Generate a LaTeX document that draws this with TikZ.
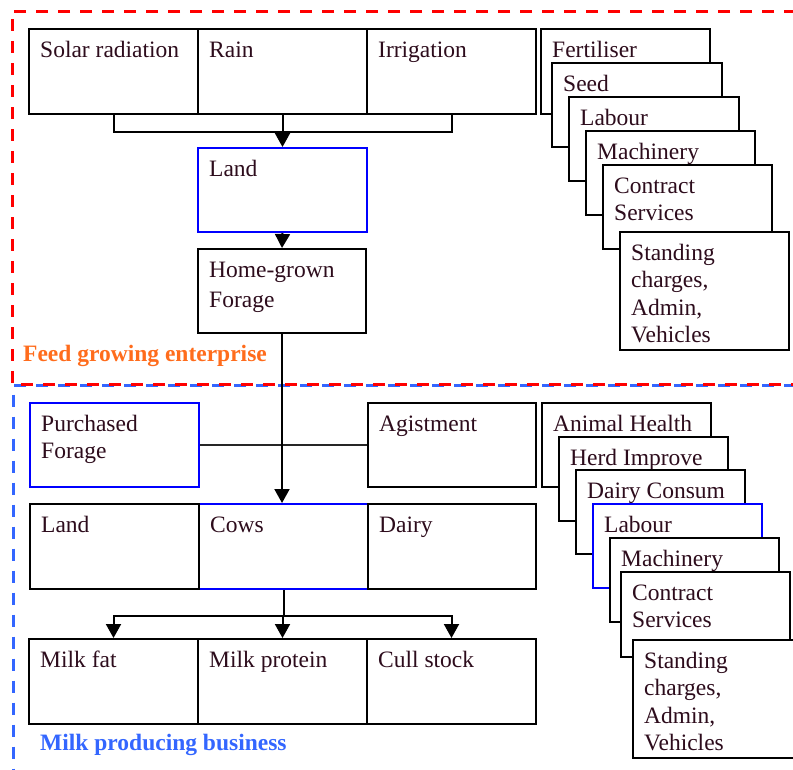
\documentclass[tikz,border=0pt]{standalone}
\usepackage{fontspec}
\setmainfont{Liberation Serif}
\usetikzlibrary{arrows.meta}

\definecolor{inktext}{RGB}{45,12,28}
\definecolor{feedorange}{RGB}{255,108,28}
\definecolor{milkblue}{RGB}{51,102,255}
\definecolor{regionred}{RGB}{255,0,0}
\definecolor{frameblue}{RGB}{0,0,255}

\tikzset{
  cellbox/.style={draw=black, line width=2pt, fill=white, rectangle, inner sep=0pt, anchor=north west},
  bluecell/.style={cellbox, draw=frameblue},
  celltext/.style={anchor=base west, inner sep=0pt, text=inktext, font=\fontsize{23.5}{27.5}\selectfont},
  flow/.style={line width=2pt, draw=black},
  flowarrow/.style={flow, -{Triangle[width=15pt,length=14pt]}},
  link/.style={line width=1.3pt, draw=black!85},
  feedzone/.style={draw=regionred, line width=3pt, dash pattern=on 12pt off 10pt},
  milkzone/.style={draw=milkblue, line width=3pt, dash pattern=on 12pt off 10pt},
  zonetitle/.style={anchor=base west, inner sep=0pt, font=\fontsize{23.5}{27.5}\selectfont\bfseries},
}

% #1 style, #2 name, #3 x, #4 y (top left), #5 width, #6 height, #7 text
\newcommand\cellnode[7]{%
  \node[#1, minimum width=#5pt, minimum height=#6pt] (#2) at (#3,#4) {};
  \node[celltext] at ([xshift=12pt,yshift=-29pt]#2.north west) {#7};}
\newcommand\lines[1]{\begin{tabular}[t]{@{}l@{}}#1\end{tabular}}

\begin{document}
\begin{tikzpicture}[x=1pt,y=-1pt]
\useasboundingbox (0,0) rectangle (793,769);
\clip (0,0) rectangle (793,769);

% enterprise regions
\draw[milkzone] (796,385.5) -- (13,385.5) -- (13,772);
\draw[feedzone] (796,11) -- (12,11) -- (12,384) -- (796,384);
\node[zonetitle, text=feedorange] (feedtitle) at (23,361) {Feed growing enterprise};
\node[zonetitle, text=milkblue] (milktitle) at (40,750) {Milk producing business};

% feed growing: natural inputs
\cellnode{cellbox}{solar}{28}{28}{169}{85}{Solar radiation}
\cellnode{cellbox}{rain}{197}{28}{169}{85}{Rain}
\cellnode{cellbox}{irr}{366}{28}{169}{85}{Irrigation}
\cellnode{bluecell}{landA}{197}{147}{169}{84}{Land}
\cellnode{cellbox}{home}{197}{248}{168}{84}{\lines{Home-grown\\[2.5pt]Forage}}

% feed growing: costs
\cellnode{cellbox}{fert}{540}{28}{169}{85}{Fertiliser}
\cellnode{cellbox}{seed}{551}{62}{170}{84}{Seed}
\cellnode{cellbox}{labA}{568}{96}{170}{84}{Labour}
\cellnode{cellbox}{machA}{585}{130}{169}{84}{Machinery}
\cellnode{cellbox}{contrA}{602}{164}{169}{84}{\lines{Contract\\Services}}
\cellnode{cellbox}{standA}{619}{231}{169}{118}{\lines{Standing\\charges,\\Admin,\\Vehicles}}

% milk producing: feed sources
\cellnode{bluecell}{purch}{29}{402}{169}{84}{\lines{Purchased\\Forage}}
\cellnode{cellbox}{agist}{367}{402}{168}{84}{Agistment}

% milk producing: resources
\cellnode{bluecell}{cows}{198}{503}{169}{85}{Cows}
\cellnode{cellbox}{landB}{29}{503}{169}{85}{Land}
\cellnode{cellbox}{dairy}{367}{503}{168}{85}{Dairy}

% milk producing: outputs
\cellnode{cellbox}{fat}{28}{638}{169}{85}{Milk fat}
\cellnode{cellbox}{protein}{197}{638}{169}{85}{Milk protein}
\cellnode{cellbox}{cull}{366}{638}{169}{85}{Cull stock}

% milk producing: costs
\cellnode{cellbox}{health}{541}{402}{169}{84}{Animal Health}
\cellnode{cellbox}{herd}{558}{436}{169}{84}{Herd Improve}
\cellnode{cellbox}{consum}{575}{469}{169}{84}{Dairy Consum}
\cellnode{bluecell}{labB}{592}{503}{169}{84}{Labour}
\cellnode{cellbox}{machB}{609}{537}{169}{84}{Machinery}
\cellnode{cellbox}{contrB}{620}{571}{169}{85}{\lines{Contract\\Services}}
\cellnode{cellbox}{standB}{632}{639}{170}{118}{\lines{Standing\\charges,\\Admin,\\Vehicles}}

% flows
\draw[flow] (solar.south) -- ++(0,17) -| (irr.south);
\draw[flowarrow] (rain.south) -- (landA.north);
\draw[flowarrow] (landA.south) -- (home.north);
\draw[link] (purch.east) -- (agist.west);
\draw[flowarrow] (home.south) -- (home.south |- cows.north);
\draw[flow] (cows.south) -- ++(0,26) coordinate (split);
\draw[flowarrow] (split) -- (split -| protein.north) -- (protein.north);
\draw[flowarrow] (split) -| (fat.north);
\draw[flowarrow] (split) -| (cull.north);
\end{tikzpicture}
\end{document}
